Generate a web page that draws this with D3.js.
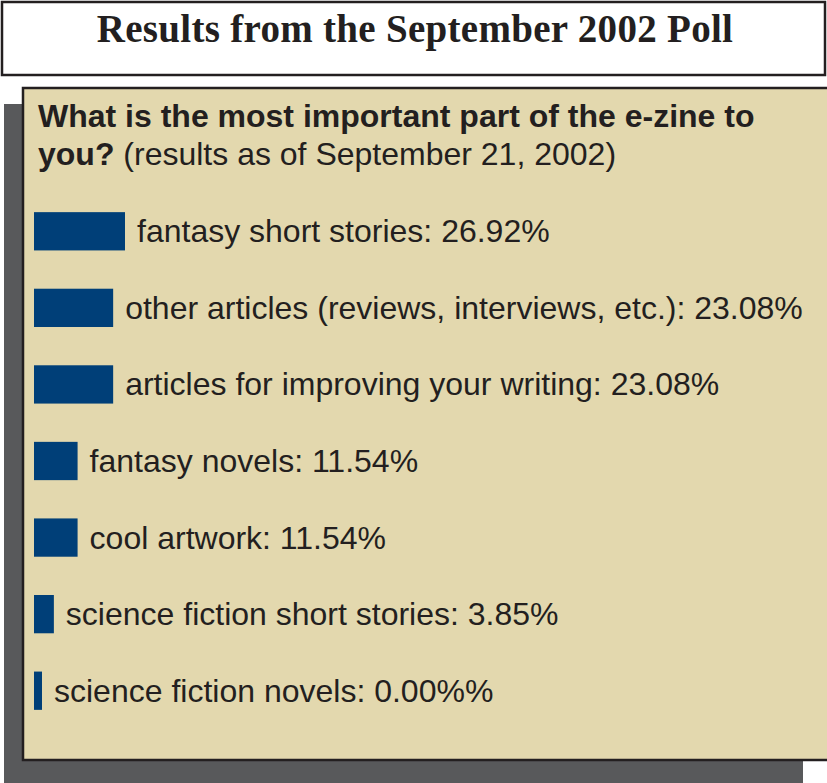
<!DOCTYPE html>
<html>
<head>
<meta charset="utf-8">
<script src="https://cdn.jsdelivr.net/npm/d3@7"></script>
<style>
  body { margin: 0; background: #fff; }
  svg text { fill: #231f20; }
</style>
</head>
<body>
<div id="chart"></div>
<script>
// poll answers and their shares (percent)
var categories = [
    "fantasy short stories",
    "other articles (reviews, interviews, etc.)",
    "articles for improving your writing",
    "fantasy novels",
    "cool artwork",
    "science fiction short stories",
    "science fiction novels"
];
var values = [26.92, 23.08, 23.08, 11.54, 11.54, 3.85, 0.00];
var valueLabels = ["26.92%", "23.08%", "23.08%", "11.54%", "11.54%", "3.85%", "0.00%%"];

var title = "Results from the September 2002 Poll";
var questionBold = ["What is the most important part of the e-zine to", "you?"];
var questionNote = " (results as of September 21, 2002)";

var W = 827, H = 783;

var svg = d3.select("#chart")
    .append("svg")
        .attr("width", W)
        .attr("height", H);

// title box
svg.append("rect")
    .attr("x", 2).attr("y", 2)
    .attr("width", 823).attr("height", 73)
    .attr("fill", "#fff")
    .attr("stroke", "#231f20")
    .attr("stroke-width", 2.5);

svg.append("text")
    .attr("x", 415)
    .attr("y", 42)
    .attr("text-anchor", "middle")
    .style("font-family", "'Liberation Serif', 'Times New Roman', serif")
    .style("font-weight", "bold")
    .style("font-size", "39px")
    .style("letter-spacing", "0.3px")
    .text(title);

// shadow + panel
svg.append("rect")
    .attr("x", 4).attr("y", 104)
    .attr("width", 799).attr("height", 679)
    .attr("fill", "#58595b");

svg.append("rect")
    .attr("x", 23).attr("y", 88)
    .attr("width", 820).attr("height", 672)
    .attr("fill", "#e3d8ae")
    .attr("stroke", "#231f20")
    .attr("stroke-width", 2.5);

// question
var q = svg.append("text")
    .style("font-family", "'Liberation Sans', Arial, sans-serif")
    .style("font-size", "32px");
q.append("tspan")
    .attr("x", 38).attr("y", 127)
    .style("font-weight", "bold")
    .text(questionBold[0]);
q.append("tspan")
    .attr("x", 38).attr("y", 165)
    .style("font-weight", "bold")
    .text(questionBold[1]);
q.append("tspan")
    .text(questionNote);

// bars
var y = d3.scaleBand()
    .domain(categories)
    .range([193, 729])
    .paddingInner(0.5)
    .paddingOuter(0.25);

var x = d3.scaleLinear()
    .domain([0, d3.max(values)])
    .range([8, 91]);

var rows = svg.selectAll("g.row")
    .data(categories)
    .enter()
    .append("g")
        .attr("class", "row");

rows.append("rect")
    .attr("x", 34)
    .attr("y", function(d) { return y(d); })
    .attr("width", function(d, i) { return x(values[i]); })
    .attr("height", y.bandwidth())
    .attr("fill", "#003f78");

rows.append("text")
    .attr("x", function(d, i) { return 34 + x(values[i]) + 12; })
    .attr("y", function(d) { return y(d) + y.bandwidth() / 2 + 11; })
    .style("font-family", "'Liberation Sans', Arial, sans-serif")
    .style("font-size", "32px")
    .text(function(d, i) { return d + ": " + valueLabels[i]; });
</script>
</body>
</html>
